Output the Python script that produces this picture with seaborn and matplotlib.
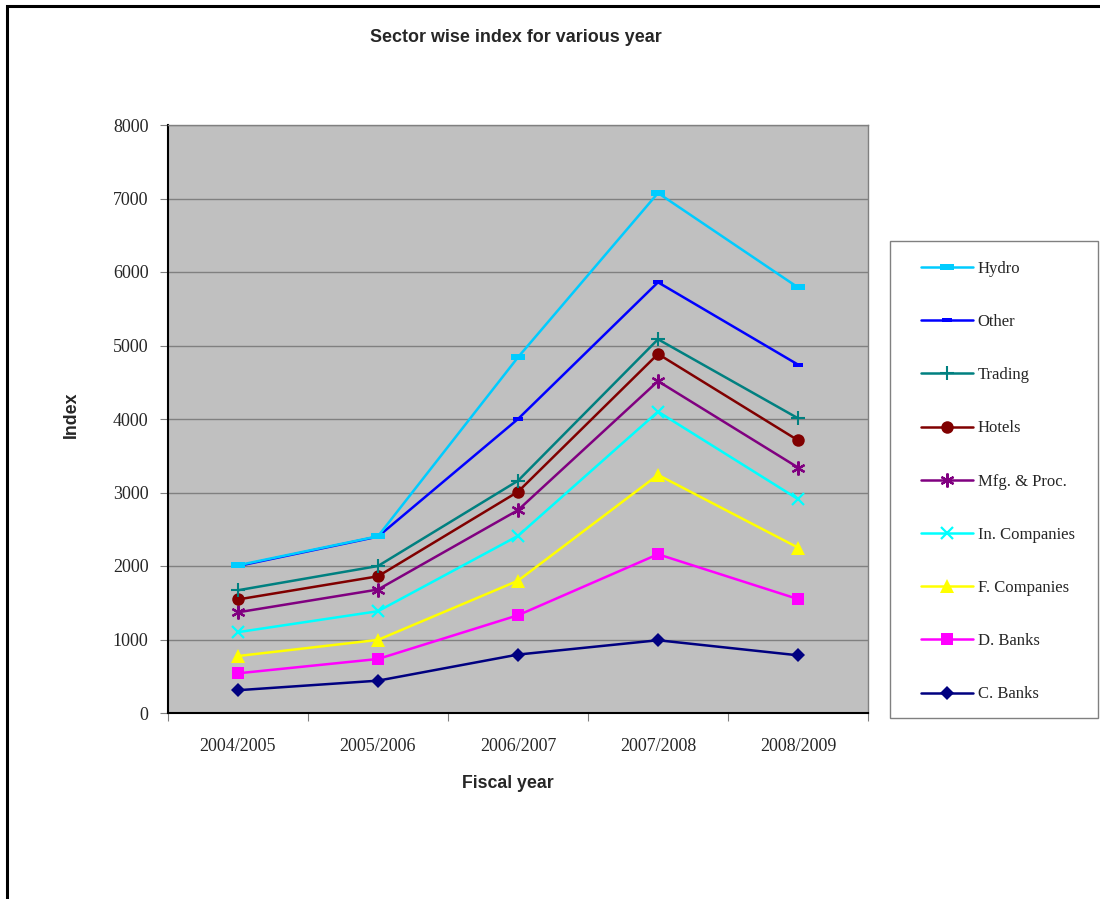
import matplotlib
matplotlib.use("Agg")
import matplotlib.pyplot as plt
import seaborn as sns
import pandas as pd
from matplotlib.patches import Rectangle
from matplotlib.path import Path
from matplotlib.ticker import FixedLocator, NullFormatter

# Fiscal years on the x axis
years = ["2004/2005", "2005/2006", "2006/2007", "2007/2008", "2008/2009"]

# Sector index values per fiscal year
hydro = [2010, 2405, 4840, 7075, 5790]
other = [2000, 2400, 4000, 5860, 4740]
trading = [1670, 2000, 3160, 5085, 4010]
hotels = [1545, 1860, 3010, 4885, 3710]
mfg_proc = [1370, 1680, 2760, 4515, 3340]
in_companies = [1100, 1385, 2410, 4100, 2910]
f_companies = [775, 995, 1800, 3240, 2250]
d_banks = [540, 735, 1330, 2160, 1550]
c_banks = [310, 440, 795, 990, 785]

sectors = ["Hydro", "Other", "Trading", "Hotels", "Mfg. & Proc.",
           "In. Companies", "F. Companies", "D. Banks", "C. Banks"]
values = [hydro, other, trading, hotels, mfg_proc,
          in_companies, f_companies, d_banks, c_banks]

# Flat horizontal bar marker
bar_marker = Path([(-1, -0.4), (1, -0.4), (1, 0.4), (-1, 0.4), (-1, -0.4)],
                  [Path.MOVETO, Path.LINETO, Path.LINETO, Path.LINETO,
                   Path.CLOSEPOLY])

styles = {
    "Hydro":         dict(color="#00CCFF", marker=bar_marker, ms=10, mew=0),
    "Other":         dict(color="#0000FF", marker=bar_marker, ms=6.5, mew=0),
    "Trading":       dict(color="#008080", marker="+", ms=10, mew=1.5),
    "Hotels":        dict(color="#800000", marker="o", ms=9, mew=0),
    "Mfg. & Proc.":  dict(color="#800080", marker=(6, 2, 0), ms=10, mew=1.6),
    "In. Companies": dict(color="#00FFFF", marker="x", ms=8, mew=1.6),
    "F. Companies":  dict(color="#FFFF00", marker="^", ms=10, mew=0),
    "D. Banks":      dict(color="#FF00FF", marker="s", ms=9, mew=0),
    "C. Banks":      dict(color="#000080", marker="D", ms=7.5, mew=0),
}

rows = []
for name, vals in zip(sectors, values):
    for i, v in enumerate(vals):
        rows.append({"sector": name, "pos": i, "value": v})
df = pd.DataFrame(rows)

sns.set_style("white")
plt.rcParams["font.family"] = ["Liberation Serif", "DejaVu Serif"]

fig = plt.figure(figsize=(11, 8.99), dpi=100)
ax = fig.add_axes([168 / 1100, 1 - 713 / 899, 700 / 1100, 588 / 899])
ax.set_facecolor("#C0C0C0")

# Draw bottom series first so Hydro ends up on top
for name in reversed(sectors):
    st = styles[name]
    sub = df[df["sector"] == name]
    sns.lineplot(data=sub, x="pos", y="value", ax=ax, color=st["color"],
                 marker=st["marker"], markersize=st["ms"],
                 markeredgewidth=st["mew"], markeredgecolor=st["color"],
                 markerfacecolor=st["color"], linewidth=1.8,
                 label=name, legend=False, zorder=3)

ax.set_xlim(-0.5, 4.5)
ax.set_ylim(0, 8000)
ax.set_yticks(range(0, 8001, 1000))
ax.yaxis.grid(True, color="#808080", lw=1)
ax.xaxis.grid(False)
ax.set_axisbelow(True)

# Major ticks at category boundaries, labels at category centres
ax.xaxis.set_major_locator(FixedLocator([-0.5, 0.5, 1.5, 2.5, 3.5, 4.5]))
ax.xaxis.set_major_formatter(NullFormatter())
ax.xaxis.set_minor_locator(FixedLocator(range(len(years))))
ax.set_xticklabels(years, minor=True)
ax.tick_params(axis="x", which="major", length=6, width=0.8, color="#808080",
               direction="out", bottom=True)
ax.tick_params(axis="x", which="minor", length=0, pad=18, labelsize=13)
ax.tick_params(axis="y", length=6, width=0.8, color="#808080",
               direction="out", left=True, labelsize=13, pad=8)

for side in ("left", "bottom"):
    ax.spines[side].set_color("black")
    ax.spines[side].set_linewidth(1.5)
for side in ("top", "right"):
    ax.spines[side].set_color("#808080")
    ax.spines[side].set_linewidth(1)

ax.set_xlabel("")
ax.set_ylabel("")

sans = ["Liberation Sans", "DejaVu Sans"]
fig.text(516 / 1100, 1 - 38 / 899, "Sector wise index for various year",
         ha="center", va="center", fontsize=12.9, fontweight="bold", family=sans)
fig.text(71 / 1100, 1 - 415 / 899, "Index", ha="center", va="center",
         rotation=90, fontsize=12.8, fontweight="bold", family=sans)
fig.text(508 / 1100, 1 - 783 / 899, "Fiscal year", ha="center", va="center",
         fontsize=12.8, fontweight="bold", family=sans)

# Legend box drawn separately so its size is fixed
box = Rectangle((890 / 1100, 1 - 718 / 899), 208 / 1100, 477 / 899,
                transform=fig.transFigure, facecolor="white",
                edgecolor="#808080", lw=1, zorder=1)
fig.patches.append(box)

leg_h, leg_l = ax.get_legend_handles_labels()
leg = fig.legend(leg_h[::-1], leg_l[::-1], loc="upper left",
                 bbox_to_anchor=(921 / 1100, 1 - 261 / 899),
                 frameon=False, labelspacing=2.23, handlelength=3.1,
                 borderpad=0, handletextpad=0.3, borderaxespad=0,
                 prop={"family": ["Liberation Serif"], "size": 12})
leg.set_zorder(2)

# Outer chart frame
frame = Rectangle((7 / 1100, -0.05), 1.2, 1 - 6 / 899 + 0.05,
                  transform=fig.transFigure, fill=False,
                  edgecolor="black", lw=2.2, clip_on=False)
fig.patches.append(frame)

fig.savefig("out.png", dpi=100)
